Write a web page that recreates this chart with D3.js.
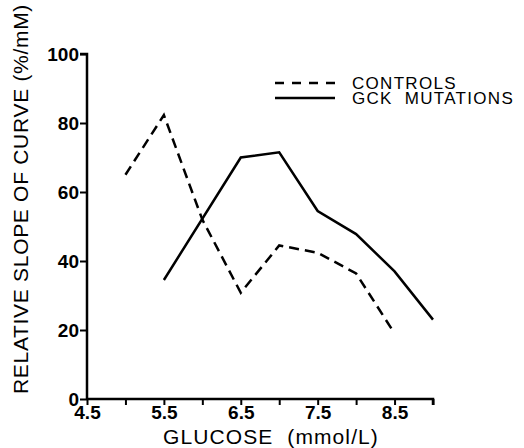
<!DOCTYPE html>
<html>
<head>
<meta charset="utf-8">
<script src="https://cdn.jsdelivr.net/npm/d3@7"></script>
<style>
  body { margin: 0; background: #fff; }
  svg text { font-family: "Liberation Sans", Arial, sans-serif; fill: #000; }
</style>
</head>
<body>
<div id="chart"></div>
<script>
var controlsX = [5.0, 5.5, 6.0, 6.5, 7.0, 7.5, 8.0, 8.5];
var controlsY = [65, 82.3, 52, 30.8, 44.5, 42.4, 36.4, 19];
var gckX = [5.5, 6.5, 7.0, 7.5, 8.0, 8.5, 9.0];
var gckY = [34.5, 70, 71.5, 54.5, 47.8, 37, 23];
var xTicks = [4.5, 5.0, 5.5, 6.0, 6.5, 7.0, 7.5, 8.0, 8.5, 9.0];
var xLabels = [4.5, 5.5, 6.5, 7.5, 8.5];
var yTicks = [0, 20, 40, 60, 80, 100];
var seriesNames = ["CONTROLS", "GCK  MUTATIONS"];

const w = 524;
const h = 448;

const xScale = d3.scaleLinear().domain([4.5, 9.0]).range([87, 433]);
const yScale = d3.scaleLinear().domain([0, 100]).range([399, 54]);

const svg = d3.select("#chart")
    .append("svg")
    .attr("width", w)
    .attr("height", h);

// axes
const xAxis = d3.axisBottom(xScale)
    .tickValues(xTicks)
    .tickSize(6)
    .tickPadding(1)
    .tickFormat((d) => xLabels.indexOf(d) >= 0 ? d3.format(".1f")(d) : "");

const yAxis = d3.axisLeft(yScale)
    .tickValues(yTicks)
    .tickSize(7)
    .tickPadding(1)
    .tickFormat(d3.format("d"));

const gx = svg.append("g")
    .attr("transform", "translate(0," + yScale(0) + ")")
    .call(xAxis);

const gy = svg.append("g")
    .attr("transform", "translate(" + xScale(4.5) + ",0)")
    .call(yAxis);

[gx, gy].forEach(function (g) {
    g.select(".domain").attr("stroke", "#000").attr("stroke-width", 2.5);
    g.selectAll(".tick line").attr("stroke", "#000").attr("stroke-width", 2);
    g.selectAll(".tick text")
        .style("font-size", "19px")
        .style("font-weight", "bold");
});
gx.select(".domain").attr("d", "M" + xScale(4.5) + ",0H" + xScale(9.0) + "V6");
gy.select(".domain").attr("d", "M-7," + yScale(100) + "H0V" + yScale(0));

// axis titles
svg.append("text")
    .attr("x", 271)
    .attr("y", 444)
    .attr("text-anchor", "middle")
    .style("font-size", "21px")
    .style("letter-spacing", "1.1px")
    .style("white-space", "pre")
    .text("GLUCOSE  (mmol/L)");

svg.append("text")
    .attr("transform", "translate(28,199) rotate(-90)")
    .attr("text-anchor", "middle")
    .style("font-size", "21px")
    .style("letter-spacing", "0.7px")
    .style("white-space", "pre")
    .text("RELATIVE SLOPE OF CURVE (%/mM)");

// lines
const line = d3.line()
    .x((d) => xScale(d[0]))
    .y((d) => yScale(d[1]));

svg.append("path")
    .datum(controlsX.map((x, i) => [x, controlsY[i]]))
    .attr("fill", "none")
    .attr("stroke", "#000")
    .attr("stroke-width", 2.5)
    .attr("stroke-dasharray", "10,6")
    .attr("d", line);

svg.append("path")
    .datum(gckX.map((x, i) => [x, gckY[i]]))
    .attr("fill", "none")
    .attr("stroke", "#000")
    .attr("stroke-width", 2.5)
    .attr("d", line);

// legend
const legend = svg.append("g");
seriesNames.forEach(function (name, i) {
    var y = 83 + i * 15;
    legend.append("line")
        .attr("x1", 275).attr("x2", 335)
        .attr("y1", y).attr("y2", y)
        .attr("stroke", "#000")
        .attr("stroke-width", 2.5)
        .attr("stroke-dasharray", i === 0 ? "9,8" : null);
    legend.append("text")
        .attr("x", 352)
        .attr("y", y + 6)
        .style("font-size", "17px")
        .style("letter-spacing", "1.3px")
        .style("white-space", "pre")
        .text(name);
});
</script>
</body>
</html>
